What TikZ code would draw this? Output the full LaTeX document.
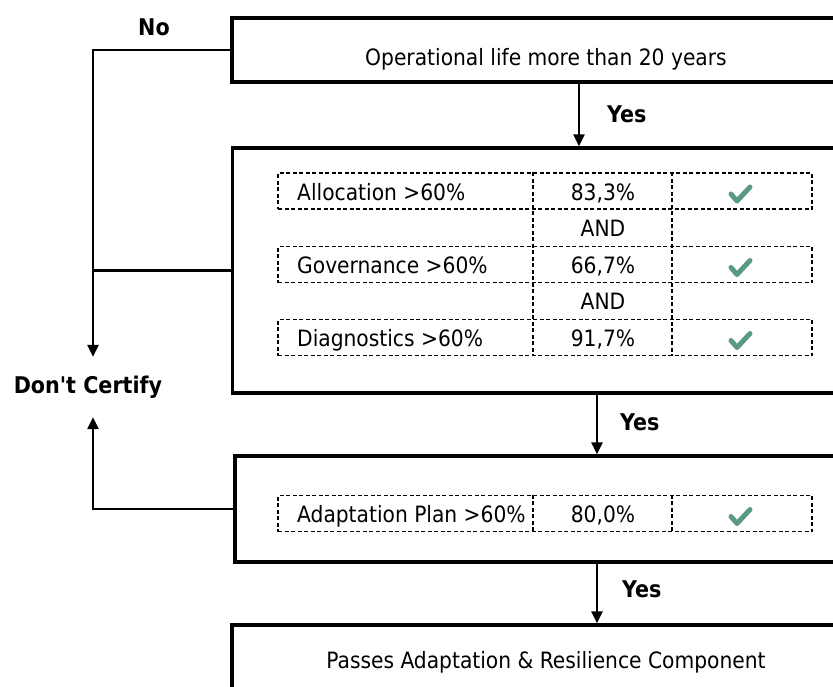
\documentclass[tikz,border=0pt]{standalone}
\usepackage{fontspec}
\setmainfont{DejaVu Sans Condensed}[BoldFont={DejaVu Sans Condensed Bold}]
\usetikzlibrary{arrows.meta}
\definecolor{tickcol}{HTML}{5A9A80}
\begin{document}
\begin{tikzpicture}[x=1pt,y=-1pt,
  box/.style={draw, line width=3.2pt, inner sep=0pt, minimum width=628pt},
  conn/.style={line width=2.6pt},
  arr/.style={conn, -{Triangle[length=12pt,width=11pt]}},
  row/.style={draw, line width=1.2pt, dash pattern=on 4pt off 2.5pt, inner sep=0pt, minimum width=534pt, minimum height=36pt},
  dashline/.style={line width=1.2pt, dash pattern=on 4pt off 2.5pt},
  txt/.style={font=\fontsize{22.5}{26}\selectfont, inner sep=0pt},
  lab/.style={txt, anchor=base west},
  val/.style={txt, anchor=base},
  btxt/.style={inner sep=0pt, font=\fontsize{23}{27}\selectfont\bfseries},
  checkmark/.pic={\draw[tickcol, line width=5pt, line cap=round, line join=round] (-9,-1) -- (-3,6) -- (10,-8);}
]
\useasboundingbox (0,0) rectangle (833,686);
\clip (0,0) rectangle (833,686);

% boxes
\node[box, minimum height=64pt, font=\fontsize{22.5}{26}\selectfont, text height=32pt, text depth=2pt] (b1) at (546,50) {Operational life more than 20 years};
\node[box, minimum height=245pt] (b2) at (546.5,270.5) {};
\node[box, minimum height=106pt] (b3) at (549,509) {};
\node[box, minimum height=70pt, font=\fontsize{22.5}{26}\selectfont, text height=20pt, text depth=4pt] (b4) at (546,660) {Passes Adaptation \& Resilience Component};

% table in box 2
\node[row] (r1) at (545,191) {};
\node[row] (r2) at (545,264.5) {};
\node[row] (r3) at (545,337.5) {};
\coordinate (c1) at (533,0);
\coordinate (c2) at (672,0);
\draw[dashline] (r1.north -| c1) -- (r3.south -| c1);
\draw[dashline] (r1.north -| c2) -- (r3.south -| c2);

\node[lab] (t1) at (297,200) {Allocation >60\%};
\node[val] (v1) at (603,200) {83,3\%};
\pic at (740,195) {checkmark};
\node[val] (and1) at (603,236) {AND};
\node[lab] (t2) at (297,273.5) {Governance >60\%};
\node[val] (v2) at (603,273.5) {66,7\%};
\pic at (740,268.5) {checkmark};
\node[val] (and2) at (603,309) {AND};
\node[lab] (t3) at (297,346.5) {Diagnostics >60\%};
\node[val] (v3) at (603,346.5) {91,7\%};
\pic at (740,341.5) {checkmark};

% table in box 3
\node[row] (r4) at (545,513.5) {};
\draw[dashline] (r4.north -| c1) -- (r4.south -| c1);
\draw[dashline] (r4.north -| c2) -- (r4.south -| c2);
\node[lab] (t4) at (297,522.5) {Adaptation Plan >60\%};
\node[val] (v4) at (603,522.5) {80,0\%};
\pic at (740,517.5) {checkmark};

% Don't certify
\node[btxt, minimum height=60pt] (dc) at (88,387) {Don\textquotesingle t Certify};
\coordinate (jn) at (93,0);

% connectors
\draw[arr] (b1.west) -| ([xshift=5pt]dc.north);
\draw[conn] (b2.west) -- (b2.west -| jn);
\draw[arr] (b3.west) -| ([xshift=5pt]dc.south);
\draw[arr] ([xshift=33pt]b1.south) -- ([xshift=33pt]b1.south |- b2.north);
\draw[arr] ([xshift=50.5pt]b2.south) -- ([xshift=50.5pt]b2.south |- b3.north);
\draw[arr] ([xshift=48pt]b3.south) -- ([xshift=48pt]b3.south |- b4.north);

% labels
\node[btxt, anchor=base] (no) at (154,35) {No};
\node[btxt, anchor=base west] (y1) at (607,122) {Yes};
\node[btxt, anchor=base west] (y2) at (620,430) {Yes};
\node[btxt, anchor=base west] (y3) at (622,597) {Yes};
\end{tikzpicture}
\end{document}
